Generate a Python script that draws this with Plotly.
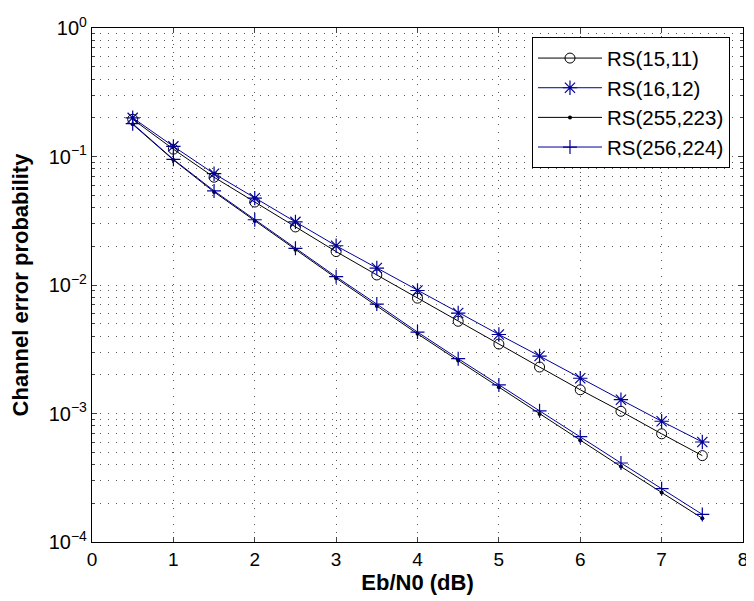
import plotly.graph_objects as go

ebn0 = [0.5, 1, 1.5, 2, 2.5, 3, 3.5, 4, 4.5, 5, 5.5, 6, 6.5, 7, 7.5]
rs_15_11 = [0.195, 0.114, 0.069, 0.0442, 0.0283, 0.0182, 0.01197, 0.0079, 0.00522,
            0.00347, 0.0023, 0.00153, 0.00104, 0.000695, 0.00047]
rs_16_12 = [0.2, 0.12, 0.0735, 0.0474, 0.031, 0.0202, 0.01355, 0.00906, 0.00605,
            0.00412, 0.0028, 0.00188, 0.00128, 0.00087, 0.0006]
rs_255_223 = [0.178, 0.094, 0.053, 0.0315, 0.0188, 0.0113, 0.00686, 0.00417, 0.00258,
              0.0016, 0.00099, 0.00062, 0.000386, 0.000243, 0.000153]
rs_256_224 = [0.18, 0.095, 0.054, 0.0322, 0.0193, 0.0116, 0.0071, 0.0043, 0.00267,
              0.00167, 0.00105, 0.00066, 0.000412, 0.00026, 0.000164]

series_names = ["RS(15,11)", "RS(16,12)", "RS(255,223)", "RS(256,224)"]
x_ticks = [0, 1, 2, 3, 4, 5, 6, 7, 8]
y_tickvals = [1e-4, 1e-3, 1e-2, 1e-1, 1]
y_ticktext = ["10<sup>\u22124</sup>", "10<sup>\u22123</sup>", "10<sup>\u22122</sup>",
              "10<sup>\u22121</sup>", "10<sup>0</sup>"]

BLACK = "#000000"
BLUE = "#000099"

fig = go.Figure()
fig.add_trace(go.Scatter(x=ebn0, y=rs_15_11, name=series_names[0], mode="lines+markers",
                         line=dict(color=BLACK, width=1),
                         marker=dict(symbol="circle-open", size=10, color=BLACK, line=dict(width=1))))
fig.add_trace(go.Scatter(x=ebn0, y=rs_16_12, name=series_names[1], mode="lines+markers",
                         line=dict(color=BLUE, width=1),
                         marker=dict(symbol="asterisk-open", size=12, color=BLUE, line=dict(width=1.2, color=BLUE))))
fig.add_trace(go.Scatter(x=ebn0, y=rs_255_223, name=series_names[2], mode="lines+markers",
                         line=dict(color=BLACK, width=1),
                         marker=dict(symbol="circle", size=4, color=BLACK)))
fig.add_trace(go.Scatter(x=ebn0, y=rs_256_224, name=series_names[3], mode="lines+markers",
                         line=dict(color=BLUE, width=1),
                         marker=dict(symbol="cross-thin-open", size=10, color=BLUE, line=dict(width=1.2, color=BLUE))))

grid_kw = dict(gridcolor="#555555", griddash="1px,7px", gridwidth=1)

# the page body has an 8px default margin, so the figure is sized/offset to compensate
fig.update_layout(
    width=746, height=593,
    margin=dict(l=84, r=6, t=16, b=59),
    paper_bgcolor="white", plot_bgcolor="white",
    font=dict(family="Liberation Sans, Arial, sans-serif", color="black", size=18),
    showlegend=True,
    legend=dict(x=0.98, y=0.982, xanchor="right", yanchor="top",
                bgcolor="white", bordercolor="black", borderwidth=1,
                font=dict(size=20.5), tracegroupgap=0, itemwidth=64),
    xaxis=dict(range=[0, 8], tickvals=x_ticks, ticks="inside", ticklen=5,
               showline=True, linecolor="black", linewidth=1.3, mirror="ticks",
               showgrid=True, zeroline=False, tickfont=dict(size=19),
               title=dict(text="<b>Eb/N0 (dB)</b>", font=dict(size=22), standoff=0),
               **grid_kw),
    yaxis=dict(type="log", range=[-4, 0], tickvals=y_tickvals, ticktext=y_ticktext,
               ticks="inside", ticklen=5,
               showline=True, linecolor="black", linewidth=1.3, mirror="ticks",
               showgrid=True, zeroline=False, tickfont=dict(size=20),
               title=dict(text="<b>Channel error probability</b>", font=dict(size=22), standoff=18),
               minor=dict(dtick="D1", ticks="inside", ticklen=3, showgrid=True, **grid_kw),
               **grid_kw),
)

fig.write_html("out.html")
